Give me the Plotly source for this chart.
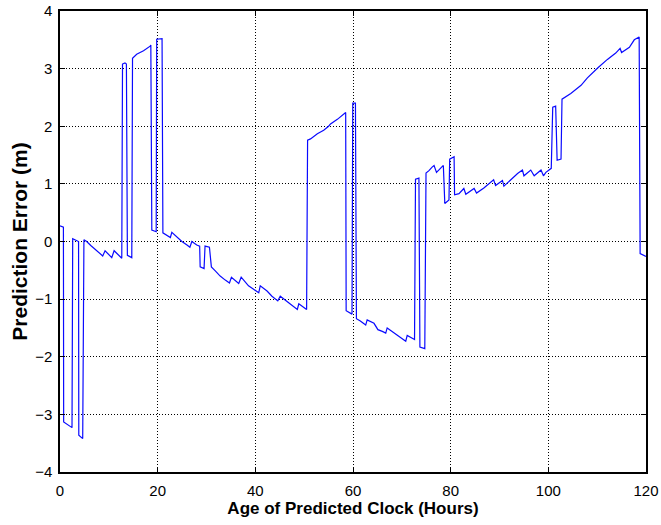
import plotly.graph_objects as go

# Predicted clock error vs. age of the prediction
hours = [0.0, 0.7, 0.75, 2.46, 2.6, 3.28, 3.8, 3.85, 4.65, 4.9, 5.47, 6.3, 7.18, 8.0, 8.75,
         9.23, 10.6, 11.08, 12.65, 12.8, 13.3, 13.6, 13.8, 14.7, 14.85, 15.7, 17.1, 18.46,
         18.6, 18.8, 19.7, 19.8, 20.7, 20.9, 21.07, 21.9, 22.6, 22.9, 23.5, 24.96, 26.0,
         26.6, 27.0, 28.0, 28.6, 28.7, 29.5, 29.7, 30.6, 31.0, 31.8, 32.8, 33.85, 34.7,
         35.1, 36.6, 37.1, 38.6, 39.65, 40.7, 41.0, 42.4, 43.4, 44.6, 45.1, 46.5, 47.5,
         48.6, 48.9, 50.5, 50.7, 51.3, 52.7, 54.0, 55.0, 55.4, 56.8, 57.8, 58.5, 58.6,
         59.8, 59.95, 60.5, 60.7, 61.5, 62.6, 62.9, 64.3, 65.1, 66.0, 66.7, 67.0, 68.0,
         69.4, 70.8, 71.1, 72.6, 72.8, 73.5, 73.7, 74.7, 74.95, 75.55, 76.2, 76.6, 77.1,
         78.3, 78.5, 78.8, 79.65, 79.8, 80.7, 80.8, 81.7, 82.7, 83.1, 84.8, 85.3, 86.8,
         88.8, 89.2, 90.6, 90.9, 92.3, 93.7, 94.7, 95.0, 96.4, 97.1, 98.5, 99.0, 99.5,
         100.6, 100.9, 101.5, 101.8, 102.6, 102.8, 104.6, 106.7, 108.0, 110.1, 112.1,
         113.8, 114.7, 115.0, 116.6, 117.6, 118.6, 118.8, 120.0]

error_m = [0.27, 0.25, -3.13, -3.23, 0.05, 0.02, 0.0, -3.36, -3.42, 0.03, -0.0, -0.07, -0.14, -0.19, -0.25,
           -0.16, -0.28, -0.16, -0.29, 3.08, 3.1, 3.08, -0.24, -0.28, 3.18, 3.25, 3.31, 3.39,
           3.41, 0.2, 0.17, 3.51, 3.52, 3.52, 0.15, 0.11, 0.07, 0.16, 0.11, 0.0, -0.06,
           -0.1, 0.0, -0.06, -0.08, -0.44, -0.47, -0.08, -0.1, -0.44, -0.51, -0.6, -0.67, -0.72,
           -0.62, -0.73, -0.62, -0.77, -0.83, -0.89, -0.77, -0.86, -0.95, -1.03, -0.95, -1.04, -1.12,
           -1.18, -1.08, -1.18, 1.76, 1.78, 1.87, 1.93, 2.0, 2.04, 2.12, 2.2, 2.24, -1.2,
           -1.26, 2.4, 2.4, -1.34, -1.38, -1.45, -1.36, -1.42, -1.53, -1.56, -1.59, -1.5, -1.56,
           -1.65, -1.73, -1.63, -1.7, 1.08, 1.1, -1.83, -1.86, 1.19, 1.23, 1.29, 1.32, 1.2,
           1.29, 1.32, 0.66, 0.72, 1.43, 1.47, 0.81, 0.83, 0.92, 0.82, 0.92, 0.84, 0.93,
           1.07, 0.97, 1.06, 0.96, 1.07, 1.18, 1.24, 1.14, 1.24, 1.14, 1.24, 1.14, 1.2,
           1.27, 2.33, 2.35, 1.41, 1.43, 2.47, 2.57, 2.71, 2.84, 3.01, 3.16,
           3.27, 3.35, 3.28, 3.37, 3.5, 3.55, -0.21, -0.26]

x_ticks = [0, 20, 40, 60, 80, 100, 120]
y_ticks = [-4, -3, -2, -1, 0, 1, 2, 3, 4]

FONT = "Liberation Sans, Arial, sans-serif"

fig = go.Figure()
fig.add_trace(go.Scatter(
    x=hours, y=error_m, mode="lines",
    line=dict(color="#0a0aff", width=1.2),
    showlegend=False,
))

axis_common = dict(
    automargin=False,
    showline=True, linecolor="black", linewidth=1.5, mirror="ticks",
    ticks="inside", ticklen=5, tickcolor="black", tickwidth=1,
    showgrid=True, gridcolor="black", gridwidth=1, griddash="1px,2px",
    zeroline=False,
    tickfont=dict(family=FONT, size=15, color="black"),
)

fig.update_layout(
    width=661, height=525,
    margin=dict(l=60, r=15, t=11, b=53),
    paper_bgcolor="white", plot_bgcolor="white",
    xaxis=dict(
        range=[0, 120], tickvals=x_ticks, ticklabelstandoff=4,
        title=dict(text="<b>Age of Predicted Clock (Hours)</b>", standoff=4,
                   font=dict(family=FONT, size=17, color="black")),
        **axis_common,
    ),
    yaxis=dict(
        range=[-4, 4], tickvals=y_ticks, ticklabelstandoff=3,
        title=dict(text="<b>Prediction Error (m)</b>", standoff=2,
                   font=dict(family=FONT, size=21, color="black")),
        **axis_common,
    ),
)

fig.write_html("out.html")
